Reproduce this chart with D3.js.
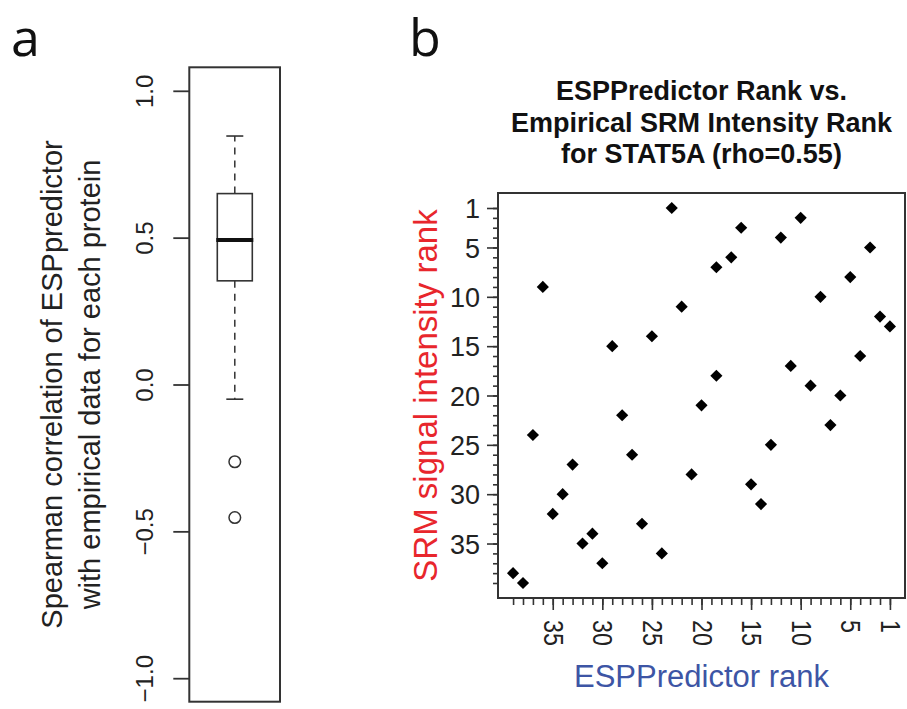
<!DOCTYPE html>
<html>
<head>
<meta charset="utf-8">
<script src="https://cdn.jsdelivr.net/npm/d3@7"></script>
<style>
  body { margin: 0; background: #fff; }
  svg { color: #222; }
  text { font-family: "Liberation Sans", Arial, sans-serif; }
</style>
</head>
<body>
<svg width="907" height="709"></svg>
<script>
"use strict";

// Panel a: boxplot of per-protein Spearman correlations
const boxStats = [-0.05, 0.353, 0.492, 0.65, 0.846]; // low whisker, Q1, median, Q3, high whisker
const boxOutliers = [-0.263, -0.453];
const corrTicks = [-1.0, -0.5, 0.0, 0.5, 1.0];

// Panel b: STAT5A peptides, SRM intensity rank vs ESPPredictor rank
const srmRank = [1, 2, 3, 4, 5, 6, 7, 8, 9, 10, 11, 12, 13, 14, 15, 16, 17, 18, 19, 20,
  21, 22, 23, 24, 25, 26, 27, 28, 29, 30, 31, 32, 33, 34, 35, 36, 37, 38, 39];
const espRank = [23, 10, 16, 12, 3, 17, 18.5, 5, 36, 8, 22, 2, 1, 25, 29, 4, 11, 18.5, 9, 6,
  20, 28, 7, 37, 13, 27, 33, 21, 15, 34, 14, 35, 26, 31, 32, 24, 30, 39, 38];
const rankTicks = [1, 5, 10, 15, 20, 25, 30, 35];
const rankMinor = d3.range(1, 40);

const svg = d3.select("svg");
const ink = "#222";

// ---------- panel a ----------
const boxA = { l: 189.3, r: 280, t: 67.3, b: 701.7 };
const yA = d3.scaleLinear().domain([-1.08, 1.08]).range([boxA.b, boxA.t]);
const cx = 234.8;

const gA = svg.append("g");

gA.append("rect")
  .attr("x", boxA.l).attr("y", boxA.t)
  .attr("width", boxA.r - boxA.l).attr("height", boxA.b - boxA.t)
  .attr("fill", "none").attr("stroke", "#333").attr("stroke-width", 2);

const axA = gA.append("g")
  .attr("transform", `translate(${boxA.l}, 0)`)
  .call(d3.axisLeft(yA).tickValues(corrTicks).tickSize(16).tickFormat(d3.format(".1f")));
axA.select(".domain").remove();
axA.selectAll("line").attr("stroke", "#333").attr("stroke-width", 1.8);
axA.selectAll("text")
  .attr("transform", "rotate(-90)")
  .attr("x", 0).attr("y", -36).attr("dy", null)
  .attr("text-anchor", "middle")
  .style("font-size", "24px").attr("fill", ink);

// whiskers
const [wLo, q1, med, q3, wHi] = boxStats;
gA.selectAll(".whisk")
  .data([[q3, wHi], [q1, wLo]])
  .join("line")
    .attr("x1", cx).attr("x2", cx)
    .attr("y1", d => yA(d[0])).attr("y2", d => yA(d[1]))
    .attr("stroke", "#333").attr("stroke-width", 1.5)
    .attr("stroke-dasharray", "7,6");
gA.selectAll(".cap")
  .data([wHi, wLo])
  .join("line")
    .attr("x1", cx - 8.5).attr("x2", cx + 8.5)
    .attr("y1", d => yA(d)).attr("y2", d => yA(d))
    .attr("stroke", "#333").attr("stroke-width", 1.6);

gA.append("rect")
  .attr("x", 217.3).attr("y", yA(q3))
  .attr("width", 35).attr("height", yA(q1) - yA(q3))
  .attr("fill", "#fff").attr("stroke", "#333").attr("stroke-width", 1.6);
gA.append("line")
  .attr("x1", 216.3).attr("x2", 253.3)
  .attr("y1", yA(med)).attr("y2", yA(med))
  .attr("stroke", "#111").attr("stroke-width", 4);

gA.selectAll(".out")
  .data(boxOutliers)
  .join("circle")
    .attr("cx", cx).attr("cy", d => yA(d)).attr("r", 5.8)
    .attr("fill", "none").attr("stroke", "#333").attr("stroke-width", 1.5);

const labA = gA.append("text")
  .attr("transform", `translate(0, ${(boxA.t + boxA.b) / 2}) rotate(-90)`)
  .attr("text-anchor", "middle")
  .style("font-size", "29px").attr("fill", ink);
labA.append("tspan").attr("x", 0).attr("y", 62).text("Spearman correlation of ESPpredictor");
labA.append("tspan").attr("x", 0).attr("y", 100).text("with empirical data for each protein");

svg.append("text")
  .attr("x", 11).attr("y", 56)
  .style("font-family", "'Open Sans', 'Noto Sans', sans-serif")
  .style("font-size", "52px").attr("fill", "#111")
  .text("a");

// ---------- panel b ----------
const boxB = { l: 498, r: 905, t: 193, b: 598 };
const xB = d3.scaleLinear().domain([40.52, -0.52]).range([boxB.l, boxB.r]);
const yB = d3.scaleLinear().domain([-0.52, 40.52]).range([boxB.t, boxB.b]);

const gB = svg.append("g");

// minor ticks first, then labelled ones
const yMinor = gB.append("g")
  .attr("transform", `translate(${boxB.l}, 0)`)
  .call(d3.axisLeft(yB).tickValues(rankMinor).tickSize(5).tickFormat(""));
const xMinor = gB.append("g")
  .attr("transform", `translate(0, ${boxB.b})`)
  .call(d3.axisBottom(xB).tickValues(rankMinor).tickSize(7).tickFormat(""));

const yAx = gB.append("g")
  .attr("transform", `translate(${boxB.l}, 0)`)
  .call(d3.axisLeft(yB).tickValues(rankTicks).tickSize(11).tickPadding(7));
yAx.selectAll("text").style("font-size", "27px").attr("fill", ink).attr("dy", "0.36em");

const xAx = gB.append("g")
  .attr("transform", `translate(0, ${boxB.b})`)
  .call(d3.axisBottom(xB).tickValues(rankTicks).tickSize(12));
xAx.selectAll("text")
  .attr("y", 0).attr("dy", "0.35em")
  .attr("transform", "rotate(90) translate(22, 0) scale(0.86, 1)")
  .attr("text-anchor", "start")
  .style("font-size", "27px").attr("fill", ink);

[yMinor, xMinor, yAx, xAx].forEach(g => {
  g.select(".domain").remove();
  g.selectAll("line").attr("stroke", "#333").attr("stroke-width", 1.6);
});

gB.append("rect")
  .attr("x", boxB.l).attr("y", boxB.t)
  .attr("width", boxB.r - boxB.l).attr("height", boxB.b - boxB.t)
  .attr("fill", "none").attr("stroke", "#333").attr("stroke-width", 2);

const diamond = d3.symbol(d3.symbolSquare, 74);
gB.selectAll(".pt")
  .data(srmRank.map((s, i) => ({ srm: s, esp: espRank[i] })))
  .join("path")
    .attr("d", diamond)
    .attr("transform", d => `translate(${xB(d.esp)}, ${yB(d.srm)}) rotate(45)`)
    .attr("fill", "#000");

// titles
const title = ["ESPPredictor Rank vs.", "Empirical SRM Intensity Rank", "for STAT5A (rho=0.55)"];
gB.selectAll(".title")
  .data(title)
  .join("text")
    .attr("x", (boxB.l + boxB.r) / 2)
    .attr("y", (d, i) => 100 + i * 31.7)
    .attr("text-anchor", "middle")
    .style("font-size", "27px").style("font-weight", "bold").attr("fill", "#111")
    .text(d => d);

gB.append("text")
  .attr("x", (boxB.l + boxB.r) / 2).attr("y", 687)
  .attr("text-anchor", "middle")
  .style("font-size", "31px").attr("fill", "#3d55a5")
  .text("ESPPredictor rank");

gB.append("text")
  .attr("transform", `translate(437, ${(boxB.t + boxB.b) / 2}) rotate(-90)`)
  .attr("text-anchor", "middle")
  .style("font-size", "33px").attr("fill", "#e8262c")
  .text("SRM signal intensity rank");

svg.append("text")
  .attr("x", 409).attr("y", 56)
  .style("font-family", "'Open Sans', 'Noto Sans', sans-serif")
  .style("font-size", "52px").attr("fill", "#111")
  .text("b");
</script>
</body>
</html>
